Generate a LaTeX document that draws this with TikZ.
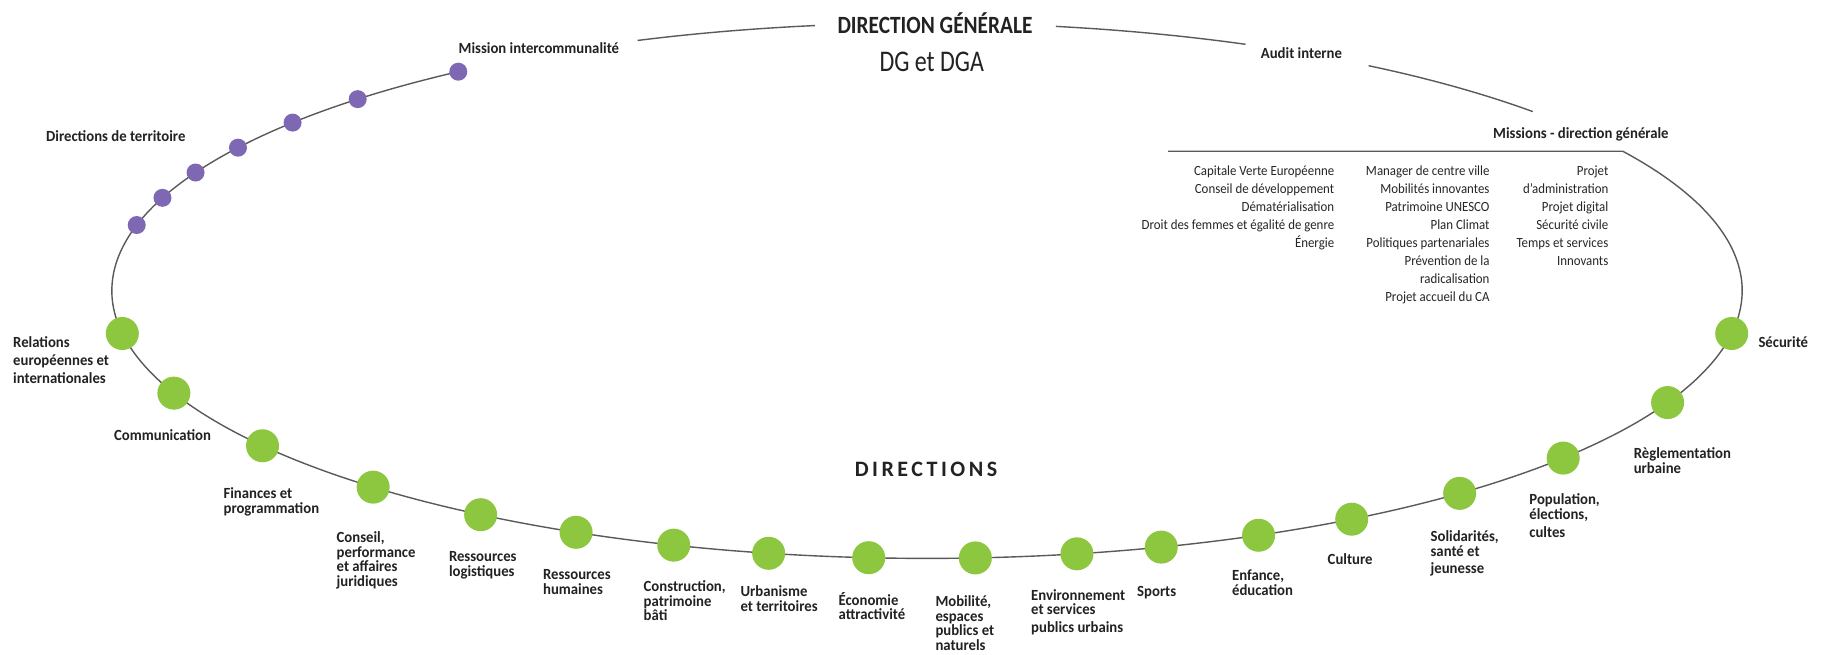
\documentclass[tikz,border=0pt]{standalone}
\usepackage{fontspec}
\setmainfont{Carlito}
\newfontfamily\lblfont[FakeStretch=0.95]{Carlito}
\newfontfamily\misfont[FakeStretch=0.92]{Carlito}
\newfontfamily\ttlfont[FakeStretch=0.86]{Carlito}
\newfontfamily\dgfont[FakeStretch=0.8]{Carlito}
\newfontfamily\dirfont[LetterSpace=16]{Carlito}
\definecolor{ringgray}{HTML}{5A5A5A}
\definecolor{dgreen}{HTML}{8DC63F}
\definecolor{dpurple}{HTML}{7F68B3}
\definecolor{txt}{HTML}{222222}
\definecolor{mistxt}{HTML}{262626}
\newcommand{\fl}{\rule{0pt}{15pt}}
\newcommand{\fm}{\rule{0pt}{13pt}}
\newcommand{\lblsetup}{\lblfont\bfseries\fontsize{15.5}{14.5}\selectfont\lineskiplimit -30pt\relax}
\newcommand{\missetup}{\misfont\fontsize{14}{18}\selectfont\lineskiplimit -30pt\relax}
\tikzset{
  ring/.style={draw=ringgray, line width=1.4pt},
  gdot/.style={circle, fill=dgreen, minimum size=33pt, inner sep=0pt},
  pdot/.style={circle, fill=dpurple, minimum size=18pt, inner sep=0pt},
  lbl/.style={anchor=north west, inner sep=0pt, align=left, text=txt, font=\lblsetup},
  mis/.style={anchor=north east, inner sep=0pt, align=right, text=mistxt, font=\missetup},
}
\begin{document}
\begin{tikzpicture}[x=1pt,y=-1pt]
\useasboundingbox[fill=white] (0,0) rectangle (1825,654);
\begin{scope}[shift={(927,290.7)}]
  % ring pieces
  \draw[ring] plot[domain=-31.4:234.9, samples=300] (\x:815.2 and 267.7);
  \draw[ring] plot[domain=-110.8:-97.9, samples=20] (\x:815.2 and 267.7);
  \draw[ring] plot[domain=-80.9:-67.0, samples=20] (\x:815.2 and 267.7);
  \draw[ring] plot[domain=-57.2:-42.0, samples=20] (\x:815.2 and 267.7);
  \coordinate (junc) at (-31.4:815.2 and 267.7);
  \coordinate (hleft) at (241,-139.5);
  \draw[ring] (hleft) -- (junc);
  % purple dots
  \node[pdot] (p1) at (234.9:815.2 and 267.7) {};
  \node[pdot] (p2) at (225.7:815.2 and 267.7) {};
  \node[pdot] (p3) at (218.9:815.2 and 267.7) {};
  \node[pdot] (p4) at (212.3:815.2 and 267.7) {};
  \node[pdot] (p5) at (206.2:815.2 and 267.7) {};
  \node[pdot] (p6) at (200.3:815.2 and 267.7) {};
  \node[pdot] (p7) at (194.2:815.2 and 267.7) {};
  % green dots
  \node[gdot] (g1) at (170.8:815.2 and 267.7) {};
  \node[gdot] (g2) at (157.5:815.2 and 267.7) {};
  \node[gdot] (g3) at (144.6:815.2 and 267.7) {};
  \node[gdot] (g4) at (132.8:815.2 and 267.7) {};
  \node[gdot] (g5) at (123.2:815.2 and 267.7) {};
  \node[gdot] (g6) at (115.5:815.2 and 267.7) {};
  \node[gdot] (g7) at (108.1:815.2 and 267.7) {};
  \node[gdot] (g8) at (101.2:815.2 and 267.7) {};
  \node[gdot] (g9) at (94.1:815.2 and 267.7) {};
  \node[gdot] (g10) at (86.6:815.2 and 267.7) {};
  \node[gdot] (g11) at (79.4:815.2 and 267.7) {};
  \node[gdot] (g12) at (73.3:815.2 and 267.7) {};
  \node[gdot] (g13) at (66.0:815.2 and 267.7) {};
  \node[gdot] (g14) at (58.6:815.2 and 267.7) {};
  \node[gdot] (g15) at (49.2:815.2 and 267.7) {};
  \node[gdot] (g16) at (38.7:815.2 and 267.7) {};
  \node[gdot] (g17) at (24.7:815.2 and 267.7) {};
  \node[gdot] (g18) at (9.2:815.2 and 267.7) {};
\end{scope}
% titles
\node[anchor=base, inner sep=0pt, text=txt, font=\ttlfont\bfseries\fontsize{24.8}{28}\selectfont] (dg) at (935,33.5) {DIRECTION GÉNÉRALE};
\node[anchor=base, inner sep=0pt, text=txt, font=\dgfont\fontsize{30}{36}\selectfont] (dga) at (931.7,71) {DG et DGA};
\node[anchor=base, inner sep=0pt, text=txt, font=\dirfont\bfseries\fontsize{22}{26}\selectfont] (dirs) at (926,476.7) {DIRECTIONS};
% top labels
\node[lbl] (lmi) at (458.5,38.7) {\fl Mission intercommunalité};
\node[lbl] (ldt) at (46,126) {\fl Directions de territoire};
\node[lbl] (lai) at (1260.7,43.3) {\fl Audit interne};
\node[lbl] (lmdg) at (1493,123.3) {\fl Missions - direction générale};
% missions lists
\node[mis] (m1) at (1334.4,162) {\fm Capitale Verte Européenne\\Conseil de développement\\Dématérialisation\\Droit des femmes et égalité de genre\\Énergie};
\node[mis] (m2) at (1489.7,162) {\fm Manager de centre ville\\Mobilités innovantes\\Patrimoine UNESCO\\Plan Climat\\Politiques partenariales\\Prévention de la\\radicalisation\\Projet accueil du CA};
\node[mis] (m3) at (1608.5,162) {\fm Projet\\d’administration\\Projet digital\\Sécurité civile\\Temps et services\\Innovants};
% direction labels
\node[lbl] (l1) at (13,332.7) {\fl Relations\\[3.3pt]européennes et\\[3.3pt]internationales};
\node[lbl] (l2) at (114,425.7) {\fl Communication};
\node[lbl] (l3) at (223.4,483) {\fl Finances et\\[0.5pt]programmation};
\node[lbl] (l4) at (336.5,527.7) {\fl Conseil,\\performance\\et affaires\\juridiques};
\node[lbl] (l5) at (448.8,546.7) {\fl Ressources\\[0.5pt]logistiques};
\node[lbl] (l6) at (542.9,564.3) {\fl Ressources\\humaines};
\node[lbl] (l7) at (643.5,576.7) {\fl Construction,\\patrimoine\\bâti};
\node[lbl] (l8) at (740.4,581.7) {\fl Urbanisme\\[0.5pt]et territoires};
\node[lbl] (l9) at (838.4,590) {\fl Économie\\attractivité};
\node[lbl] (l10) at (935.3,591.7) {\fl Mobilité,\\espaces\\publics et\\naturels};
\node[lbl] (l11) at (1031,585) {\fl Environnement\\et services\\[3.5pt]publics urbains};
\node[lbl] (l12) at (1137,581.7) {\fl Sports};
\node[lbl] (l13) at (1231.9,565) {\fl Enfance,\\[0.5pt]éducation};
\node[lbl] (l14) at (1327.5,549.3) {\fl Culture};
\node[lbl] (l15) at (1430.4,526.7) {\fl Solidarités,\\santé et\\[3pt]jeunesse};
\node[lbl] (l16) at (1529.2,489.3) {\fl Population,\\[0.5pt]élections,\\[3.5pt]cultes};
\node[lbl] (l17) at (1633.6,443.3) {\fl Règlementation\\urbaine};
\node[lbl] (l18) at (1758.3,332) {\fl Sécurité};
\end{tikzpicture}
\end{document}
